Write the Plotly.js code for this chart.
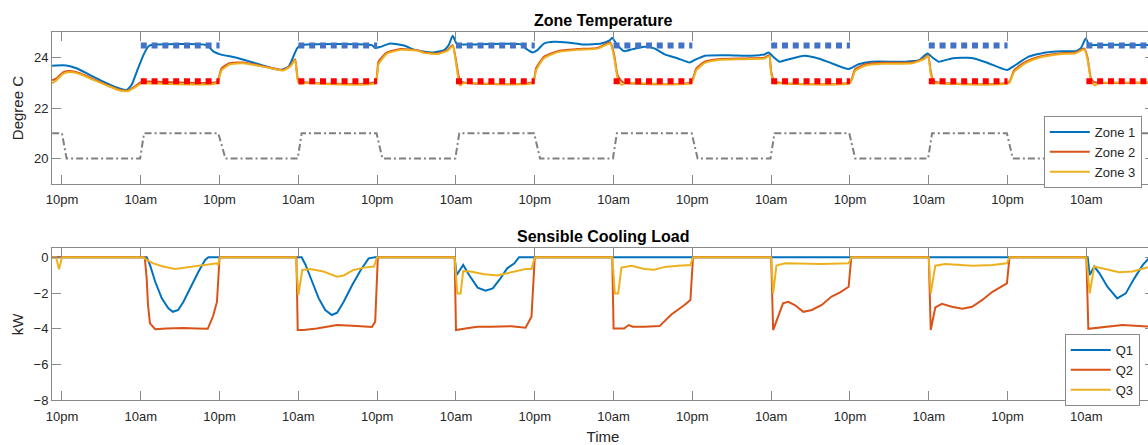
<!DOCTYPE html>
<html>
<head>
<meta charset="utf-8">
<script src="https://cdn.plot.ly/plotly-3.0.1.min.js"></script>
<style>
html, body { margin: 0; padding: 0; overflow: hidden; background: #fff; }
#chart { width: 1160px; height: 445px; }
</style>
</head>
<body>
<div id="chart"></div>
<script>
// ---------- DATA (hours after the first 10pm) ----------
const tickHours  = [0, 12, 24, 36, 48, 60, 72, 84, 96, 108, 120, 132, 144, 156];
const tickLabels = ['10pm','10am','10pm','10am','10pm','10am','10pm','10am','10pm','10am','10pm','10am','10pm','10am'];

const zone1T = [-1.5,-0.85,0.67,2.2,4.2,6.3,8.3,9.8,10.6,11.4,12.4,13.1,13.6,22.0,23.1,24.1,26.6,28.7,31.2,33.2,34.5,35.0,35.8,36.4,47.2,47.7,48.5,50.0,52.1,53.5,55.0,56.6,58.2,58.9,59.5,60.1,61.0,69.9,70.6,71.7,72.4,73.4,75.0,77.0,79.5,82.1,83.4,83.8,84.4,85.6,86.9,88.7,90.2,91.8,93.8,95.6,96.3,97.9,101.4,105.0,107.0,107.6,108.3,109.3,110.1,113.1,115.2,117.2,119.8,121.3,123.3,128.4,130.5,131.8,132.6,133.5,135.5,138.6,141.1,143.9,145.2,147.2,149.8,152.3,154.4,155.2,155.9,156.5,157.0,167.0];
const zone1  = [23.68,23.69,23.69,23.58,23.32,23.05,22.82,22.71,22.92,23.45,24.10,24.43,24.50,24.50,24.24,24.13,24.00,23.84,23.64,23.51,23.64,23.90,24.37,24.50,24.50,24.38,24.43,24.56,24.48,24.33,24.25,24.21,24.30,24.50,24.87,24.56,24.52,24.53,24.37,24.21,24.30,24.56,24.63,24.60,24.52,24.56,24.69,24.79,24.56,24.26,24.34,24.43,24.37,24.13,23.97,23.81,23.90,24.08,24.10,24.08,24.13,24.21,24.04,23.84,23.90,24.08,23.97,23.78,23.55,23.74,23.84,23.84,23.90,24.17,24.00,23.84,23.97,23.99,23.78,23.51,23.71,24.04,24.21,24.26,24.26,24.39,24.76,24.47,24.50,24.50];

const zone2T = [-1.5,-0.85,0.15,1.2,2.7,4.7,6.8,8.8,10.1,11.1,12.1,23.6,24.3,25.6,27.6,29.7,32.2,33.7,34.8,35.5,35.9,36.3,47.7,48.2,49.5,51.6,54.1,55.1,57.2,58.7,59.5,60.0,60.5,61.0,71.7,72.2,73.4,75.5,78.5,81.6,83.5,84.1,84.6,85.4,95.8,96.6,97.9,99.9,104.0,107.0,107.7,108.0,108.5,120.0,120.8,122.4,124.9,129.5,131.3,131.9,132.3,132.8,144.2,145.0,146.8,148.8,151.9,154.4,155.7,156.2,156.7,157.2,167.0];
const zone2  = [23.10,23.18,23.42,23.47,23.38,23.16,22.92,22.72,22.70,22.86,23.04,23.04,23.58,23.79,23.81,23.71,23.58,23.51,23.69,23.94,23.18,23.06,23.04,23.84,24.21,24.34,24.30,24.21,24.17,24.30,24.50,23.90,23.18,23.03,23.03,23.58,24.04,24.26,24.34,24.39,24.60,24.10,23.32,23.03,23.03,23.58,23.84,23.94,23.97,24.00,24.10,23.45,23.06,23.03,23.55,23.74,23.80,23.81,23.97,24.10,23.45,23.06,23.03,23.51,23.84,24.04,24.17,24.21,24.37,23.97,23.18,23.03,23.03];

const zone3T = [-1.5,-0.85,0.15,1.2,2.7,4.7,6.8,8.8,10.1,11.1,12.1,12.6,23.6,24.3,25.6,27.6,29.7,32.2,33.7,34.8,35.5,35.9,36.3,36.8,47.7,48.2,49.5,51.6,54.1,55.1,57.2,58.7,59.5,60.0,60.6,61.2,71.7,72.2,73.4,75.5,78.5,81.6,83.5,84.1,84.6,85.2,85.8,95.8,96.6,97.9,99.9,104.0,107.0,107.7,108.0,108.5,109.0,120.0,120.8,122.4,124.9,129.5,131.3,131.9,132.3,132.8,133.3,144.2,145.0,146.8,148.8,151.9,154.4,155.7,156.2,156.7,157.3,157.8,167.0];
const zone3  = [22.98,23.10,23.36,23.43,23.35,23.13,22.90,22.70,22.68,22.82,22.98,22.99,22.99,23.50,23.74,23.78,23.69,23.56,23.49,23.66,23.90,23.10,22.95,22.99,22.99,23.74,24.16,24.31,24.28,24.19,24.15,24.27,24.46,23.80,22.90,22.99,22.99,23.50,23.98,24.22,24.31,24.36,24.56,24.00,23.20,22.92,22.99,22.99,23.50,23.79,23.91,23.94,23.97,24.06,23.35,22.98,22.99,22.99,23.48,23.69,23.76,23.78,23.94,24.06,23.35,22.98,22.99,22.99,23.44,23.79,24.00,24.14,24.18,24.33,23.90,23.10,22.90,22.99,22.99];

// occupied-period cooling setpoints (10am - 10pm)
const occStart = [12, 36, 60, 84, 108, 132, 156];
const occEnd   = [24, 48, 72, 96, 120, 144, 167];
const zone1Setpoint  = 24.48;
const zone23Setpoint = 23.07;

// heating setpoint schedule
const heatT = [-1.5,0,0.7,11.9,12.5,23.8,24.9,35.9,36.5,47.9,48.8,59.9,60.5,71.9,72.8,83.9,84.5,95.9,96.8,107.9,108.5,119.9,120.8,131.9,132.5,143.9,144.8,155.9,156.5,167];
const heatSp = [21,21,20,20,21,21,20,20,21,21,20,20,21,21,20,20,21,21,20,20,21,21,20,20,21,21,20,20,21,21];

// sensible cooling loads, kW
const q1T = [-1.5,12.9,13.4,14.2,15.2,16.2,16.9,17.7,18.5,19.5,20.8,21.8,22.3,36.5,37.1,38.1,39.1,40.1,41.1,41.9,42.9,44.2,45.5,46.7,47.7,59.8,60.1,61.1,62.0,63.3,64.5,65.6,66.6,67.8,68.9,69.6,156.2,156.5,157.2,158.0,159.2,160.7,162.0,163.3,164.6,165.6,166.0,167.0];
const q1  = [0,0,-0.43,-1.37,-2.30,-2.86,-3.05,-2.95,-2.49,-1.74,-0.80,-0.15,0,0,-0.43,-1.37,-2.30,-2.95,-3.23,-3.10,-2.49,-1.55,-0.71,-0.06,0,0,-0.99,-0.43,-0.99,-1.70,-1.87,-1.74,-1.27,-0.62,-0.34,0,0,-0.99,-0.52,-0.90,-1.65,-2.30,-2.02,-1.18,-0.43,-0.02,0,0];

const q2T = [-1.5,12.6,12.9,13.1,13.4,14.2,15.9,18.5,20.5,22.2,23.0,23.6,24.0,35.7,35.9,36.8,38.8,41.9,44.9,47.2,47.7,48.1,59.8,60.0,62.2,63.3,65.3,68.4,70.6,71.5,72.0,83.8,84.0,85.6,86.3,86.9,88.7,91.0,92.8,93.8,94.8,95.7,96.1,108.0,108.3,109.8,110.6,111.6,112.9,114.2,115.7,117.2,118.5,119.8,120.2,132.0,132.3,133.0,134.0,135.5,137.1,138.6,140.1,141.7,143.2,143.9,144.3,156.0,156.3,158.9,161.5,164.0,165.8,167.0];
const q2  = [0,0,-1.18,-2.67,-3.70,-4.02,-3.98,-3.95,-3.98,-4.00,-3.30,-2.50,0,0,-4.07,-4.07,-3.98,-3.79,-3.85,-3.90,-3.60,0,0,-4.07,-3.94,-3.88,-3.88,-3.86,-3.94,-3.33,0,0,-3.98,-3.98,-3.79,-3.88,-3.88,-3.85,-3.20,-2.95,-2.67,-2.39,0,0,-4.07,-2.58,-2.49,-2.67,-3.05,-2.95,-2.67,-2.20,-1.96,-1.65,0,0,-4.07,-2.80,-2.60,-2.77,-2.88,-2.77,-2.40,-1.93,-1.60,-1.46,0,0,-4.00,-3.88,-3.79,-3.85,-3.88,-3.90];

const q3T = [-1.5,-0.9,-0.45,0.0,12.4,12.9,13.9,15.4,17.2,19.0,21.0,22.5,23.6,23.8,24.0,35.6,36.0,36.6,37.8,39.8,41.9,42.9,44.4,46.0,47.5,48.0,59.8,60.2,60.7,61.1,62.2,64.3,66.3,67.8,69.4,70.6,71.5,72.0,83.8,84.2,84.7,85.2,86.7,88.7,90.2,91.8,93.8,95.7,96.1,108.0,108.3,108.8,110.1,115.7,119.8,120.2,132.0,132.3,133.0,134.5,138.6,141.7,143.9,144.3,156.0,156.5,157.2,158.5,161.0,163.0,165.0,165.8,167.0];
const q3  = [0,0,-0.67,0,0,-0.15,-0.34,-0.52,-0.66,-0.58,-0.47,-0.39,-0.34,-0.45,0,0,-2.10,-0.71,-0.66,-0.80,-1.09,-1.02,-0.71,-0.58,-0.52,0,0,-2.02,-2.02,-0.77,-0.80,-0.95,-1.02,-0.89,-0.77,-0.66,-0.66,0,0,-2.02,-2.02,-0.58,-0.47,-0.66,-0.70,-0.54,-0.47,-0.43,0,0,-2.02,-0.47,-0.34,-0.38,-0.34,0,0,-2.02,-0.47,-0.38,-0.47,-0.43,-0.34,0,0,-2.02,-0.52,-0.62,-0.84,-0.80,-0.62,-0.52,-0.40];

// ---------- build setpoint segments ----------
function segments(value) {
  const x = [], y = [];
  occStart.forEach((s, i) => { x.push(s, occEnd[i], null); y.push(value, value, null); });
  return {x, y};
}
const sp1 = segments(zone1Setpoint);
const sp23 = segments(zone23Setpoint);

const C1 = '#0072BD', C2 = '#D95319', C3 = '#EDB120';
const FONT = 'Liberation Sans, Arial, Helvetica, sans-serif';
const AXC = '#8a8a8a', TXT = '#262626';

const traces = [
  {x: heatT, y: heatSp, mode: 'lines', line: {color: '#808080', width: 2, dash: '7px,3px,2px,3px'}, showlegend: false, hoverinfo: 'skip', xaxis: 'x', yaxis: 'y'},
  {x: zone1T, y: zone1, name: 'Zone 1', mode: 'lines', line: {color: C1, width: 2, shape: 'spline', smoothing: 0.5}, legend: 'legend', xaxis: 'x', yaxis: 'y'},
  {x: zone2T, y: zone2, name: 'Zone 2', mode: 'lines', line: {color: C2, width: 2, shape: 'spline', smoothing: 0.5}, legend: 'legend', xaxis: 'x', yaxis: 'y'},
  {x: zone3T, y: zone3, name: 'Zone 3', mode: 'lines', line: {color: C3, width: 2, shape: 'spline', smoothing: 0.5}, legend: 'legend', xaxis: 'x', yaxis: 'y'},
  {x: sp1.x, y: sp1.y, mode: 'lines', line: {color: '#4472C4', width: 6, dash: '6px,4.8px'}, showlegend: false, hoverinfo: 'skip', xaxis: 'x', yaxis: 'y'},
  {x: sp23.x, y: sp23.y, mode: 'lines', line: {color: '#FF0000', width: 6, dash: '6px,4.8px'}, showlegend: false, hoverinfo: 'skip', xaxis: 'x', yaxis: 'y'},
  {x: q1T, y: q1, name: 'Q1', mode: 'lines', line: {color: C1, width: 2}, legend: 'legend2', xaxis: 'x2', yaxis: 'y2'},
  {x: q2T, y: q2, name: 'Q2', mode: 'lines', line: {color: C2, width: 2}, legend: 'legend2', xaxis: 'x2', yaxis: 'y2'},
  {x: q3T, y: q3, name: 'Q3', mode: 'lines', line: {color: C3, width: 2}, legend: 'legend2', xaxis: 'x2', yaxis: 'y2'}
];

const xCommon = {
  range: [-1.52, 166.3], tickmode: 'array', tickvals: tickHours, ticktext: tickLabels,
  showline: true, linecolor: AXC, linewidth: 1, mirror: 'ticks', ticks: 'inside', ticklen: 9, tickcolor: AXC,
  showgrid: false, zeroline: false, tickfont: {family: FONT, size: 13, color: TXT}, ticklabelstandoff: 4
};
const yCommon = {
  showline: true, linecolor: AXC, linewidth: 1, mirror: 'ticks', ticks: 'inside', ticklen: 9, tickcolor: AXC,
  showgrid: false, zeroline: false, tickfont: {family: FONT, size: 13, color: TXT}, automargin: false
};

const layout = {
  width: 1160, height: 445,
  margin: {l: 52, r: 6, t: 0, b: 0},
  paper_bgcolor: '#fff', plot_bgcolor: '#fff',
  font: {family: FONT, color: TXT},
  xaxis: Object.assign({}, xCommon, {domain: [0, 1], anchor: 'y'}),
  yaxis: Object.assign({}, yCommon, {domain: [0.5872, 0.9270], range: [19, 25], tickvals: [20, 22, 24], anchor: 'x',
    title: {text: 'Degree C', font: {family: FONT, size: 15, color: TXT}, standoff: 6}}),
  xaxis2: Object.assign({}, xCommon, {domain: [0, 1], anchor: 'y2',
    title: {text: 'Time', font: {family: FONT, size: 15, color: TXT}, standoff: 8}}),
  yaxis2: Object.assign({}, yCommon, {domain: [0.1004, 0.4420], range: [-8, 0.5], tickvals: [-8, -6, -4, -2, 0], anchor: 'x2',
    title: {text: 'kW', font: {family: FONT, size: 15, color: TXT}, standoff: 6}}),
  legend: {x: 0.9, y: 0.7393, xanchor: 'left', yanchor: 'top', bgcolor: '#fff', bordercolor: AXC, borderwidth: 1,
    font: {family: FONT, size: 13, color: TXT}, tracegroupgap: 0, itemwidth: 40},
  legend2: {x: 0.919, y: 0.2494, xanchor: 'left', yanchor: 'top', bgcolor: '#fff', bordercolor: AXC, borderwidth: 1,
    font: {family: FONT, size: 13, color: TXT}, tracegroupgap: 0, itemwidth: 40},
  annotations: [
    {text: '<b>Zone Temperature</b>', xref: 'paper', yref: 'paper', x: 0.5, y: 1 - 20/445, xanchor: 'center', yanchor: 'middle', showarrow: false, font: {family: FONT, size: 16, color: '#000'}},
    {text: '<b>Sensible Cooling Load</b>', xref: 'paper', yref: 'paper', x: 0.5, y: 1 - 236/445, xanchor: 'center', yanchor: 'middle', showarrow: false, font: {family: FONT, size: 16, color: '#000'}}
  ],
  showlegend: true
};

Plotly.newPlot('chart', traces, layout, {displayModeBar: false, staticPlot: true});
</script>
</body>
</html>
